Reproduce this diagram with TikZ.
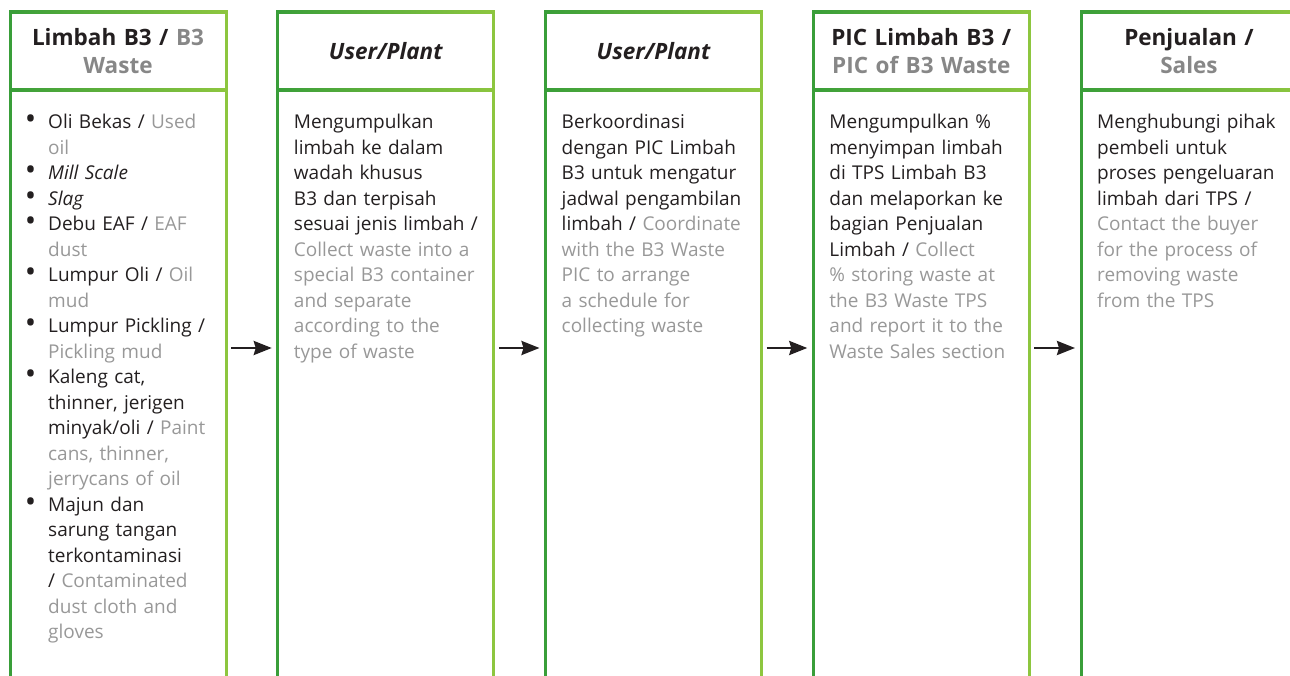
\documentclass[tikz,border=0pt]{standalone}
\usepackage{fontspec}
\setmainfont{Open Sans}
\usetikzlibrary{positioning,arrows.meta}

\definecolor{greendark}{RGB}{57,158,57}
\definecolor{greenlight}{RGB}{141,198,63}
\definecolor{inkblack}{RGB}{35,31,32}
\definecolor{headgray}{RGB}{135,135,135}
\definecolor{engray}{RGB}{152,152,152}

\newcommand{\en}[1]{{\color{engray}#1}}
\newcommand{\hg}[1]{{\color{headgray}#1}}
\newcommand{\bul}{\leavevmode\llap{\smash{\raisebox{-0.12ex}{\scalebox{1.6}{\textbullet}}}\hspace{12pt}}}

\begin{document}
\begin{tikzpicture}[x=1pt,y=1pt]
	\tikzstyle{every node}=[font=\fontsize{19}{25.5}\selectfont, text=inkblack]
	\tikzstyle{column}=[minimum width=216pt, minimum height=672pt, inner sep=0pt, outer sep=0pt]
	\tikzstyle{headbox}=[minimum width=216pt, minimum height=78pt, inner sep=0pt, outer sep=0pt, text width=205pt, align=center, font=\fontsize{22.5}{28}\selectfont\bfseries]
	\tikzstyle{bodytext}=[anchor=north west, inner sep=0pt, text width=200pt, align=left]
	\tikzstyle{leftedge}=[draw=greendark, line width=3pt, line cap=rect]
	\tikzstyle{rightedge}=[draw=greenlight, line width=3pt, line cap=rect]
	\tikzstyle{topedge}=[left color=greendark, right color=greenlight]
	\tikzstyle{flow}=[draw=inkblack, line width=2.5pt, shorten <=5pt, shorten >=6pt, -{Stealth[length=18pt,width=14pt,inset=2pt]}]

	\clip (0,0) rectangle (1290,675);

	% columns
	\node[column] (c1) at (118,327) {};
	\node[column, right=51.75pt of c1] (c2) {};
	\node[column, right=51.75pt of c2] (c3) {};
	\node[column, right=51.75pt of c3] (c4) {};
	\node[column, right=51.75pt of c4] (c5) {};

	% headers
	\node[headbox, below=0pt of c1.north] (h1) {Limbah B3 / \hg{B3}\\\hg{Waste}};
	\node[headbox, below=0pt of c2.north] (h2) {\itshape User/Plant};
	\node[headbox, below=0pt of c3.north] (h3) {\itshape User/Plant};
	\node[headbox, below=0pt of c4.north] (h4) {PIC Limbah B3 /\\\hg{PIC of B3 Waste}};
	\node[headbox, below=0pt of c5.north] (h5) {Penjualan /\\\hg{Sales}};

	% frames
	\foreach \i in {1,...,5}{
		\draw[leftedge] (c\i.north west) -- (c\i.south west);
		\draw[rightedge] (c\i.north east) -- (c\i.south east);
		\shade[topedge] ([yshift=1.5pt]c\i.north west) rectangle ([yshift=-1.5pt]c\i.north east);
		\shade[topedge] ([yshift=1.5pt]h\i.south west) rectangle ([yshift=-1.5pt]h\i.south east);
	}

	% texts
	\node[bodytext] (b1) at ([xshift=38pt,yshift=-24pt]h1.south west) {\bul Oli Bekas / \en{Used}\\
		\en{oil}\\
		\bul\textit{Mill Scale}\\
		\bul\textit{Slag}\\
		\bul Debu EAF / \en{EAF}\\
		\en{dust}\\
		\bul Lumpur Oli / \en{Oil}\\
		\en{mud}\\
		\bul Lumpur Pickling /\\
		\en{Pickling mud}\\
		\bul Kaleng cat,\\
		thinner, jerigen\\
		minyak/oli / \en{Paint}\\
		\en{cans, thinner,}\\
		\en{jerrycans of oil}\\
		\bul Majun dan\\
		sarung tangan\\
		terkontaminasi\\
		/ \en{Contaminated}\\
		\en{dust cloth and}\\
		\en{gloves}};
	\node[bodytext] (b2) at ([xshift=16pt,yshift=-24pt]h2.south west) {Mengumpulkan\\
		limbah ke dalam\\
		wadah khusus\\
		B3 dan terpisah\\
		sesuai jenis limbah /\\
		\en{Collect waste into a}\\
		\en{special B3 container}\\
		\en{and separate}\\
		\en{according to the}\\
		\en{type of waste}};
	\node[bodytext] (b3) at ([xshift=16pt,yshift=-24pt]h3.south west) {Berkoordinasi\\
		dengan PIC Limbah\\
		B3 untuk mengatur\\
		jadwal pengambilan\\
		limbah / \en{Coordinate}\\
		\en{with the B3 Waste}\\
		\en{PIC to arrange}\\
		\en{a schedule for}\\
		\en{collecting waste}};
	\node[bodytext] (b4) at ([xshift=16pt,yshift=-24pt]h4.south west) {Mengumpulkan \%\\
		menyimpan limbah\\
		di TPS Limbah B3\\
		dan melaporkan ke\\
		bagian Penjualan\\
		Limbah / \en{Collect}\\
		\en{\% storing waste at}\\
		\en{the B3 Waste TPS}\\
		\en{and report it to the}\\
		\en{Waste Sales section}};
	\node[bodytext] (b5) at ([xshift=16pt,yshift=-24pt]h5.south west) {Menghubungi pihak\\
		pembeli untuk\\
		proses pengeluaran\\
		limbah dari TPS /\\
		\en{Contact the buyer}\\
		\en{for the process of}\\
		\en{removing waste}\\
		\en{from the TPS}};

	% arrows
	\foreach \i/\j in {1/2,2/3,3/4,4/5}
		\draw[flow] (c\i.east) -- (c\j.west);
\end{tikzpicture}
\end{document}
